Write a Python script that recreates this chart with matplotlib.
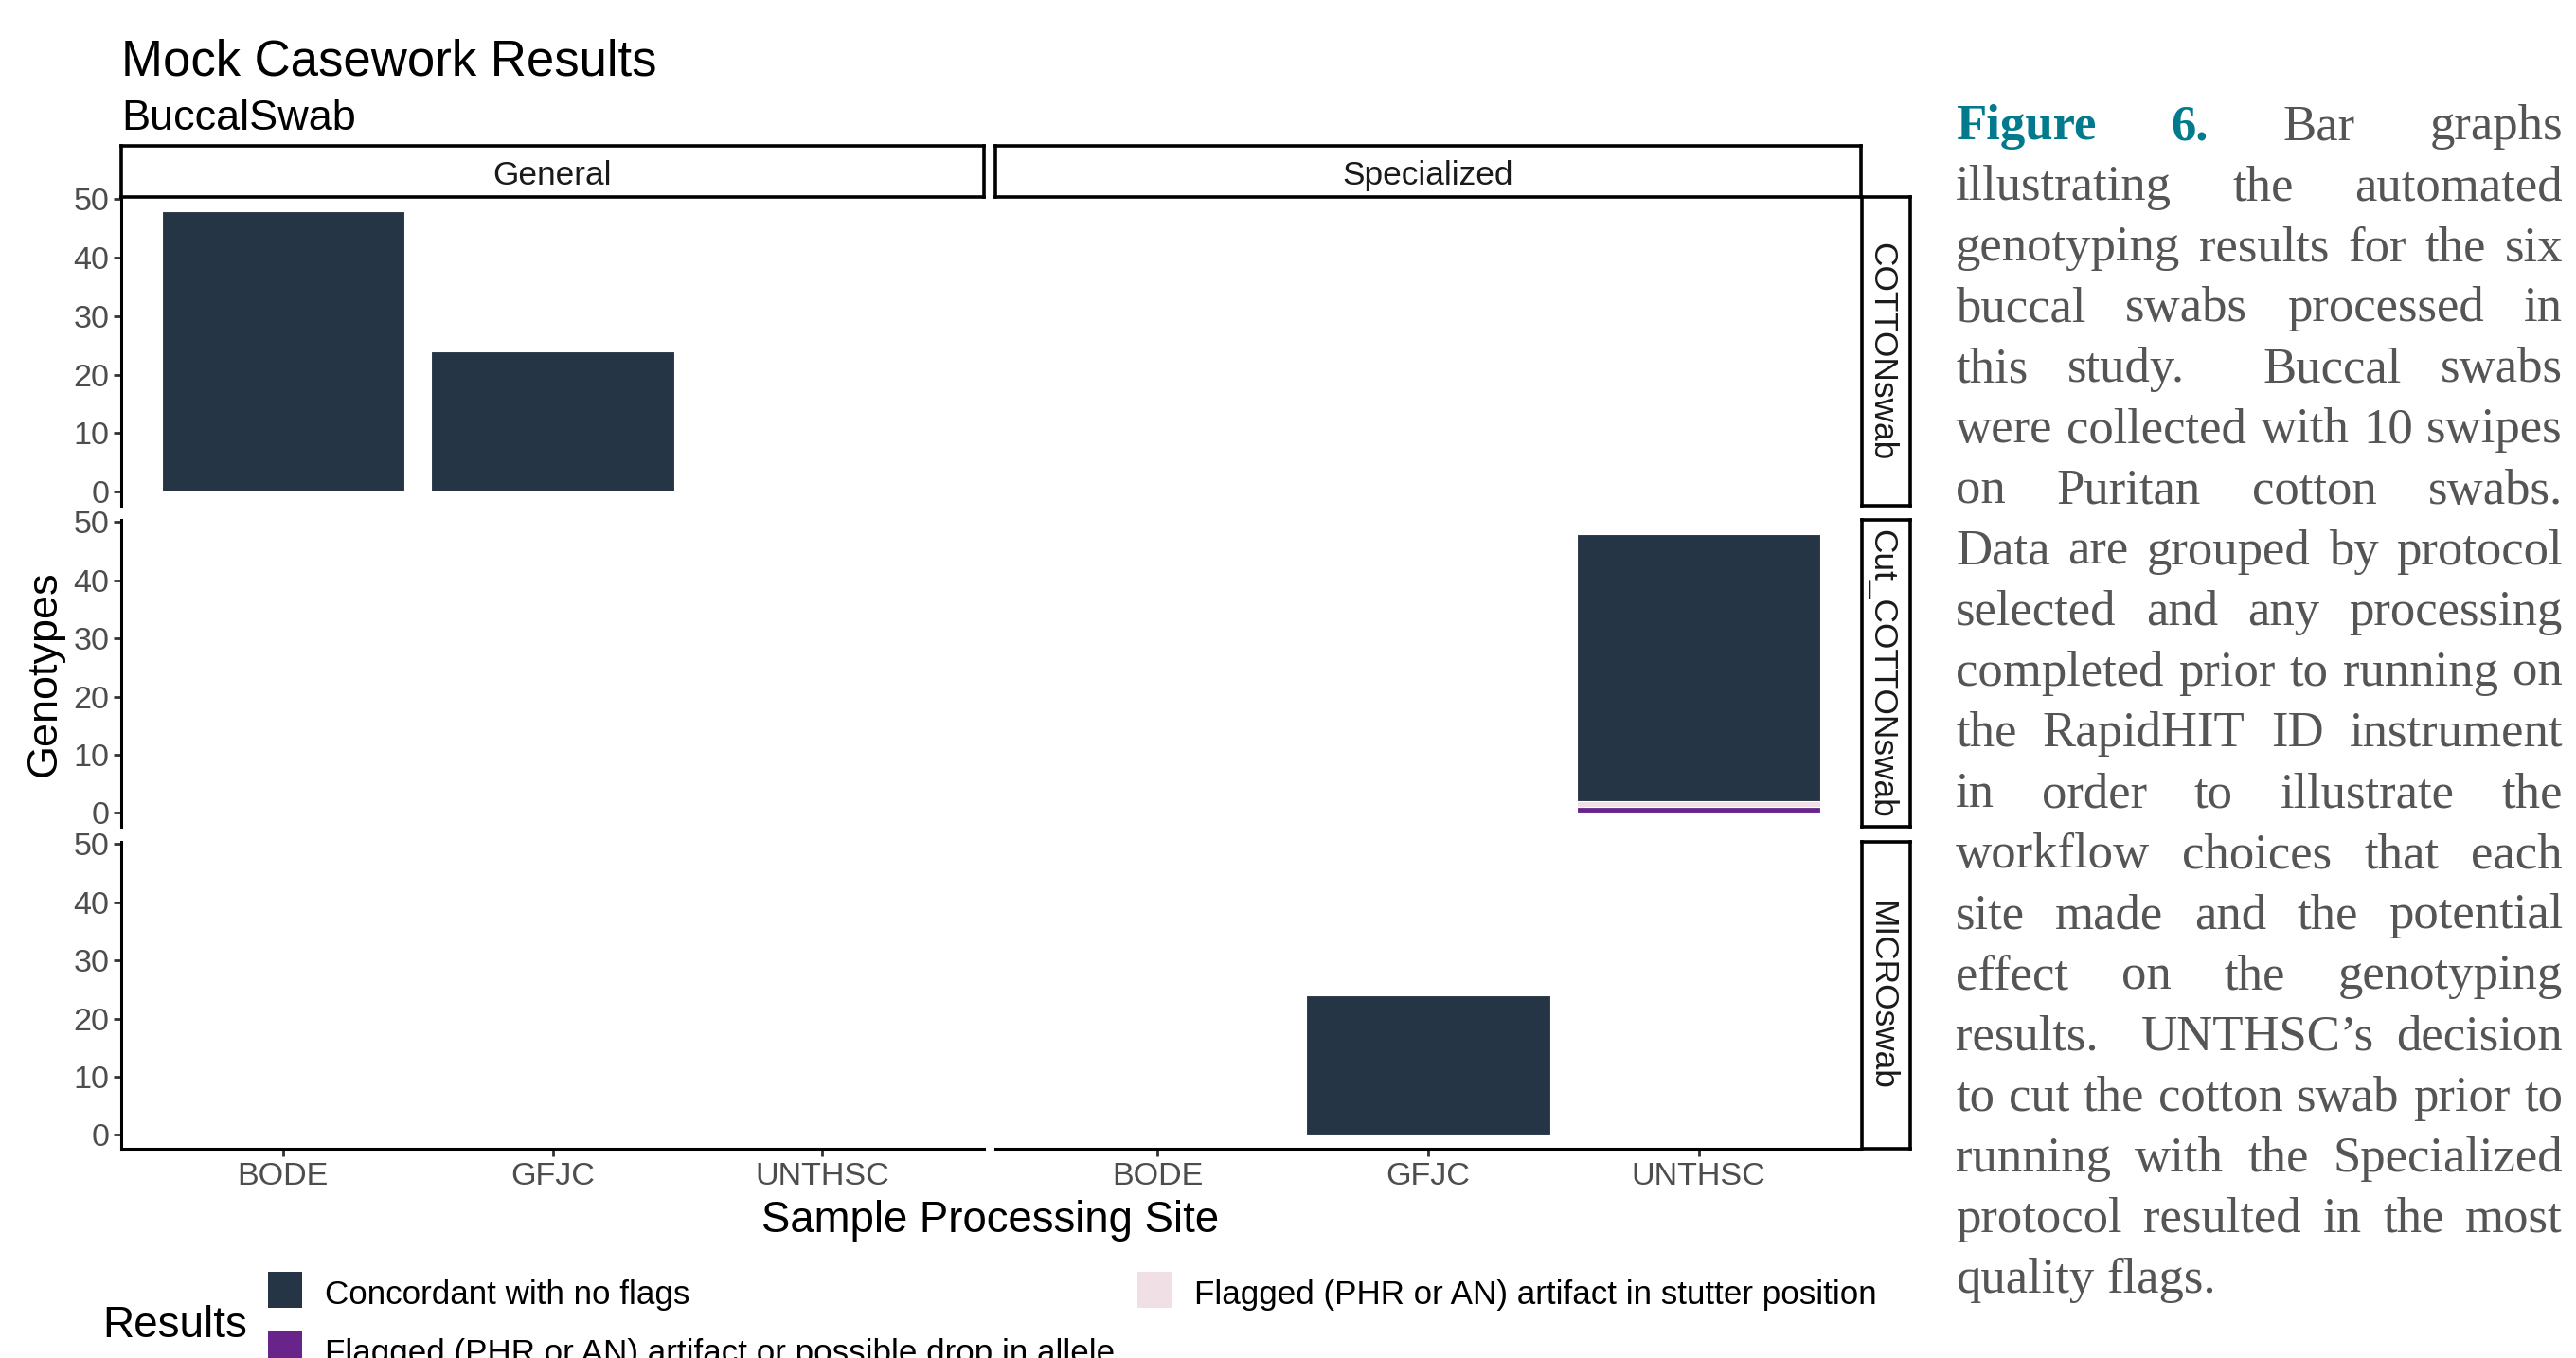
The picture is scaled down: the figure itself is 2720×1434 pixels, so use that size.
import numpy as np
import matplotlib.pyplot as plt
from matplotlib.patches import Rectangle

W, H = 2720, 1434
DPI = 200

plt.rcParams['font.family'] = 'Liberation Sans'

protocols = ['General', 'Specialized']
swabs = ['COTTONswab', 'Cut_COTTONswab', 'MICROswab']
sites = ['BODE', 'GFJC', 'UNTHSC']

# genotype counts per result type, indexed [swab][protocol][site]
concordant = [[[48, 24, 0], [0, 0, 0]],
              [[0, 0, 0], [0, 0, 46]],
              [[0, 0, 0], [0, 24, 0]]]
drop_flag = [[[0, 0, 0], [0, 0, 0]],
             [[0, 0, 0], [0, 0, 1]],
             [[0, 0, 0], [0, 0, 0]]]
stutter_flag = [[[0, 0, 0], [0, 0, 0]],
                [[0, 0, 0], [0, 0, 1]],
                [[0, 0, 0], [0, 0, 0]]]

result_labels = ['Concordant with no flags',
                 'Flagged (PHR or AN) artifact or possible drop in allele',
                 'Flagged (PHR or AN) artifact in stutter position']
c_conc = '#263545'
c_drop = '#68248A'
c_stut = '#F0E0E6'

yticks = [0, 10, 20, 30, 40, 50]

# two spaces after a full stop, as typeset
caption_lines = [
    'Figure 6. Bar graphs',
    'illustrating the automated',
    'genotyping results for the six',
    'buccal swabs processed in',
    'this study.  Buccal swabs',
    'were collected with 10 swipes',
    'on Puritan cotton swabs.',
    'Data are grouped by protocol',
    'selected and any processing',
    'completed prior to running on',
    'the RapidHIT ID instrument',
    'in order to illustrate the',
    'workflow choices that each',
    'site made and the potential',
    'effect on the genotyping',
    'results.  UNTHSC\u2019s decision',
    'to cut the cotton swab prior to',
    'running with the Specialized',
    'protocol resulted in the most',
    'quality flags.',
]


def box(x0, y0, x1, y1):
    # pixel box (top-left origin) -> figure fraction rect
    return [x0 / W, 1 - y1 / H, (x1 - x0) / W, (y1 - y0) / H]


fig = plt.figure(figsize=(W / DPI, H / DPI), dpi=DPI)

col_x = [(128, 1039), (1051, 1965)]
row_y = [(208, 534), (549, 873), (889, 1213)]
tick_col = '#4D4D4D'
x = np.arange(1, len(sites) + 1)

for r, swab in enumerate(swabs):
    for c, prot in enumerate(protocols):
        ax = fig.add_axes(box(col_x[c][0], row_y[r][0], col_x[c][1], row_y[r][1]))
        d = np.array(drop_flag[r][c])
        s = np.array(stutter_flag[r][c])
        k = np.array(concordant[r][c])
        kw = dict(width=0.9, edgecolor='white', linewidth=0.4)
        ax.bar(x, d, color=c_drop, **kw)
        ax.bar(x, s, bottom=d, color=c_stut, **kw)
        ax.bar(x, k, bottom=d + s, color=c_conc, **kw)
        ax.set_xlim(0.4, 3.6)
        ax.set_ylim(-2.4, 50.4)
        for sp in ['top', 'right']:
            ax.spines[sp].set_visible(False)
        ax.spines['left'].set_linewidth(1.1)
        ax.spines['bottom'].set_linewidth(1.1)
        ax.tick_params(length=3, width=1.0, color='#333333', labelcolor=tick_col,
                       labelsize=12.3)
        ax.set_yticks(yticks)
        ax.set_xticks(x)
        ax.set_xticklabels(sites)
        ax.tick_params(axis='y', pad=1.5)
        ax.tick_params(axis='x', pad=2.2)
        if c == 1:
            ax.spines['left'].set_visible(False)
            ax.tick_params(axis='y', left=False, labelleft=False)
        if r < 2:
            ax.spines['bottom'].set_visible(False)
            ax.tick_params(axis='x', bottom=False, labelbottom=False)

# facet strips
for c, prot in enumerate(protocols):
    sa = fig.add_axes(box(col_x[c][0], 154, col_x[c][1], 208))
    sa.set_xticks([])
    sa.set_yticks([])
    for sp in sa.spines.values():
        sp.set_linewidth(1.3)
    sa.text(0.5, 0.41, prot, transform=sa.transAxes, ha='center', va='center',
            fontsize=12.7, color='#1A1A1A')

for r, swab in enumerate(swabs):
    sa = fig.add_axes(box(1966, row_y[r][0], 2017, row_y[r][1]))
    sa.set_xticks([])
    sa.set_yticks([])
    for sp in sa.spines.values():
        sp.set_linewidth(1.3)
    sa.text(0.41, 0.5, swab, transform=sa.transAxes, ha='center', va='center',
            rotation=-90, fontsize=12.7, color='#1A1A1A')

# titles
fig.text(128 / W, 1 - 80 / H, 'Mock Casework Results', fontsize=19, va='baseline')
fig.text(128 / W, 1 - 137 / H, 'BuccalSwab', fontsize=16.2, va='baseline')
fig.text(1046 / W, 1 - 1289 / H, 'Sample Processing Site', fontsize=16.4,
         ha='center', va='center')
fig.text(47 / W, 1 - 711 / H, 'Genotypes', fontsize=16.2, rotation=90,
         ha='center', va='center')

# legend
fig.text(108 / W, 1 - 1412 / H, 'Results', fontsize=16.5, va='baseline')
keys = [(283, 1343, c_conc, result_labels[0]),
        (283, 1406, c_drop, result_labels[1]),
        (1201, 1343, c_stut, result_labels[2])]
for kx, ky, col, lab in keys:
    fig.add_artist(Rectangle((kx / W, 1 - (ky + 38) / H), 36 / W, 38 / H,
                             transform=fig.transFigure, facecolor=col,
                             edgecolor='none'))
    fig.text((kx + 60) / W, 1 - (ky + 24) / H, lab, fontsize=12.6,
             va='center', ha='left')

# justified caption: spare width shared out per space character
teal = '#007A8C'
gray = '#555555'
cap_left, cap_right = 2065, 2706
base0, step = 147, 64.1
renderer = fig.canvas.get_renderer()
for i, line in enumerate(caption_lines):
    tokens = line.split(' ')
    words, nsp = [], []
    for tok in tokens:
        if tok == '':
            nsp[-1] += 1
        else:
            words.append(tok)
            nsp.append(1)
    nsp = nsp[:-1]
    yy = 1 - (base0 + i * step) / H
    texts = []
    for j, w in enumerate(words):
        bold = (i == 0 and j < 2)
        t = fig.text(0, yy, w, fontsize=19, family='Liberation Serif',
                     weight='bold' if bold else 'normal',
                     color=teal if bold else gray, va='baseline', ha='left')
        texts.append(t)
    widths = [t.get_window_extent(renderer).width for t in texts]
    if i < len(caption_lines) - 1:
        per = (cap_right - cap_left - sum(widths)) / sum(nsp)
    else:
        per = 0.25 * 19 * DPI / 72
    xp = cap_left
    for j, (t, wd) in enumerate(zip(texts, widths)):
        t.set_x(xp / W)
        if j < len(nsp):
            xp += wd + per * nsp[j]

fig.savefig('out.png', dpi=DPI)
